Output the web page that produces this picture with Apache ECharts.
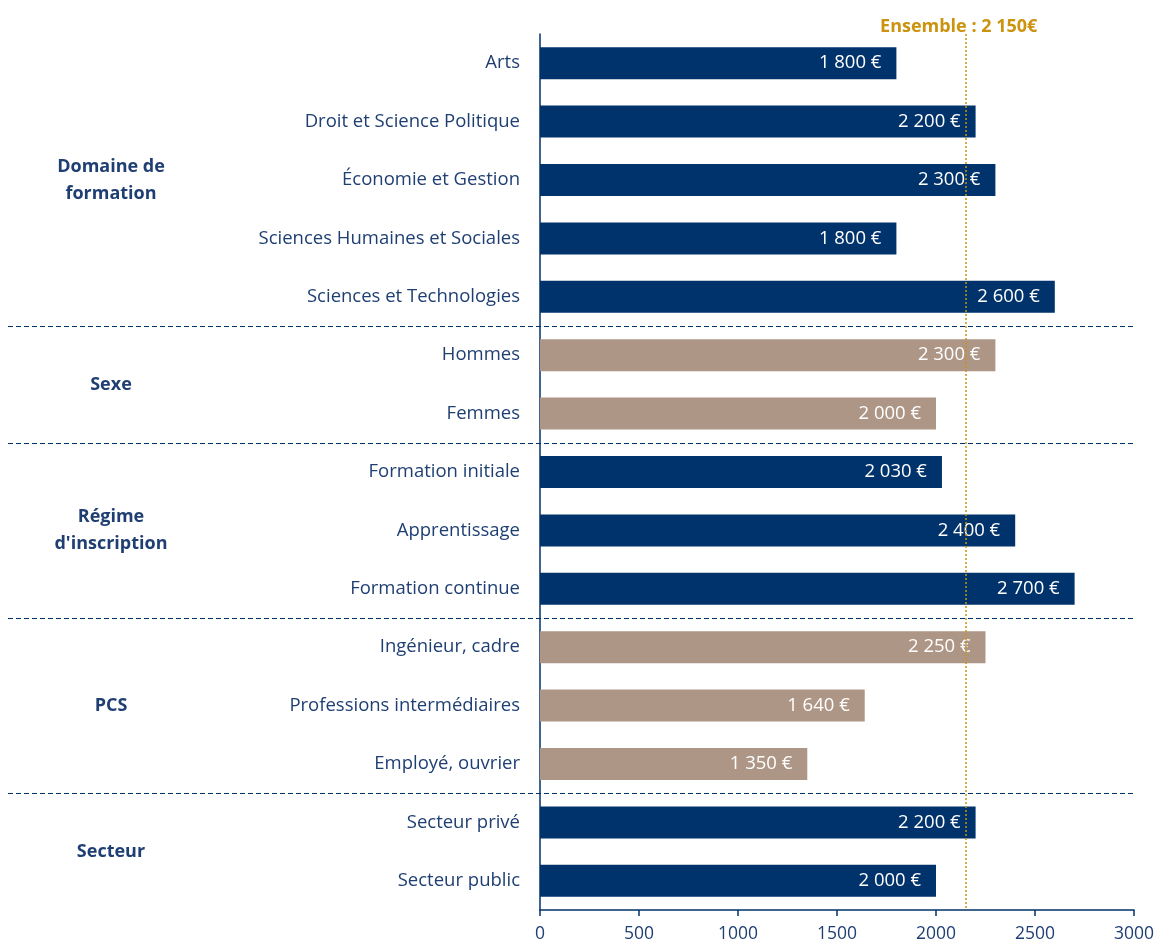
<!DOCTYPE html>
<html><head><meta charset="utf-8">
<script src="https://cdn.jsdelivr.net/npm/echarts@6/dist/echarts.min.js"></script>
<style>html,body{margin:0;padding:0;background:#fff}#c{width:1158px;height:946px}</style>
</head><body><div id="c"></div>
<script>
const categories = ['Arts','Droit et Science Politique','Économie et Gestion','Sciences Humaines et Sociales','Sciences et Technologies','Hommes','Femmes','Formation initiale','Apprentissage','Formation continue','Ingénieur, cadre','Professions intermédiaires','Employé, ouvrier','Secteur privé','Secteur public'];
const values = [1800,2200,2300,1800,2600,2300,2000,2030,2400,2700,2250,1640,1350,2200,2000];
const groups = ['Domaine de\nformation','Sexe',"Régime\nd'inscription",'PCS','Secteur'];
const groupSizes = [5,2,3,3,2];
const ensemble = 2150;
const ensembleLabel = 'Ensemble : 2 150€';
const xTicks = [0,500,1000,1500,2000,2500,3000];

const NAVY = '#00336B', TAN = '#AE9686', TEXT = '#1F3F73', GOLD = '#CB930E';
const FONT = 'Open Sans';
const groupColors = [NAVY, TAN, NAVY, TAN, NAVY];
const barColors = [];
groupSizes.forEach((n,g)=>{for(let i=0;i<n;i++) barColors.push(groupColors[g]);});
const fmt = v => String(v).replace(/\B(?=(\d{3})+(?!\d))/g,' ') + ' €';

const chart = echarts.init(document.getElementById('c'));
chart.setOption({
  animation:false,
  grid:{left:540,right:24,top:34,bottom:36},
  xAxis:{type:'value',min:xTicks[0],max:xTicks[xTicks.length-1],interval:500,
    axisLine:{show:true,lineStyle:{color:NAVY,width:1.5}},
    axisTick:{show:true,length:6,lineStyle:{color:NAVY,width:1.5}},
    splitLine:{show:false},
    axisLabel:{color:TEXT,fontSize:17.5,fontFamily:FONT,margin:15,formatter:v=>String(v)}},
  yAxis:{type:'category',inverse:true,data:categories,
    axisLine:{show:true,lineStyle:{color:NAVY,width:1.5}},
    axisTick:{show:false},
    axisLabel:{color:TEXT,fontSize:18.5,fontFamily:FONT,margin:20}},
  series:[{type:'bar',barWidth:32,
    data:values.map((v,i)=>({value:v,itemStyle:{color:barColors[i]}})),
    label:{show:true,position:'insideRight',distance:15,color:'#fff',fontSize:18.5,fontFamily:FONT,formatter:p=>fmt(p.value)},
    markLine:{silent:true,symbol:'none',
      lineStyle:{color:GOLD,type:[2,2],width:1.5},
      label:{show:true,position:'start',formatter:ensembleLabel,color:GOLD,fontWeight:'bold',fontSize:18,fontFamily:FONT,distance:0,offset:[-7,2]},
      data:[{xAxis:ensemble}]}
  }]
});

const graphics = [];
let idx = 0;
const xRight = chart.convertToPixel({xAxisIndex:0}, xTicks[xTicks.length-1]);
groupSizes.forEach((n,g)=>{
  const yFirst = chart.convertToPixel({yAxisIndex:0}, categories[idx]);
  const yLast = chart.convertToPixel({yAxisIndex:0}, categories[idx+n-1]);
  graphics.push({type:'text',x:111,y:(yFirst+yLast)/2,
    style:{text:groups[g],fill:TEXT,font:'bold 18px '+FONT,textAlign:'center',textVerticalAlign:'middle',lineHeight:27}});
  if(g < groupSizes.length-1){
    const yNext = chart.convertToPixel({yAxisIndex:0}, categories[idx+n]);
    const yb = Math.round((yLast+yNext)/2)+0.5;
    graphics.push({type:'line',shape:{x1:8,y1:yb,x2:xRight,y2:yb},
      style:{stroke:NAVY,lineWidth:1,lineDash:[5,3]}});
  }
  idx += n;
});
chart.setOption({graphic:graphics});
</script></body></html>
